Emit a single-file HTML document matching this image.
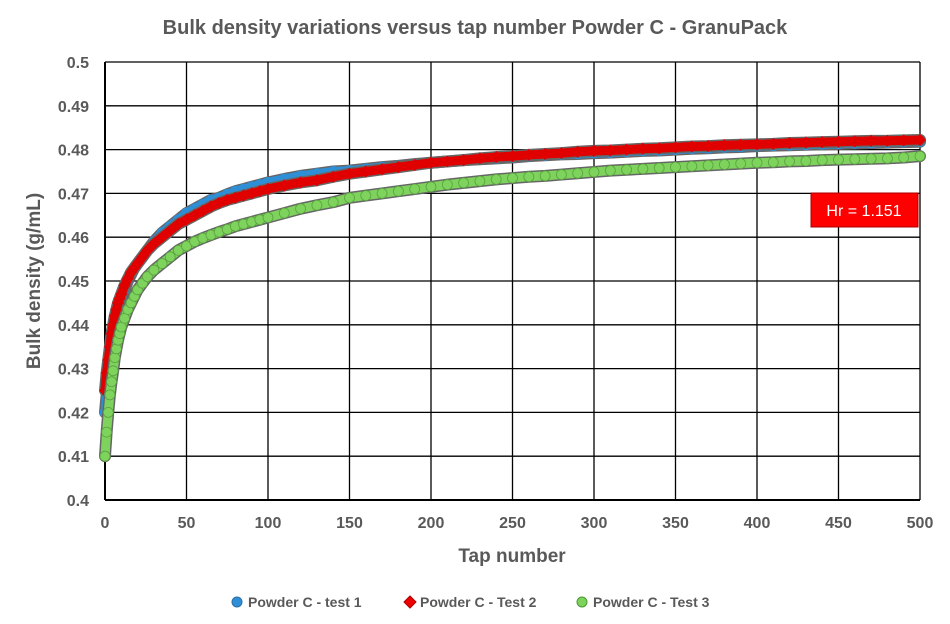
<!DOCTYPE html>
<html><head><meta charset="utf-8"><style>
body{margin:0;background:#fff;font-family:"Liberation Sans",sans-serif}
</style></head><body>
<svg id="chart" width="950" height="624" xmlns="http://www.w3.org/2000/svg" style="display:block">
<rect width="950" height="624" fill="#fff"/>
<text x="475" y="34" text-anchor="middle" font-size="20" font-weight="bold" fill="#595959">Bulk density variations versus tap number Powder C - GranuPack</text>
<g id="grid"></g><g id="marks"></g><g id="ticks"></g>
<text x="512" y="562" text-anchor="middle" font-size="19" font-weight="bold" fill="#595959">Tap number</text>
<text transform="translate(40,281) rotate(-90)" text-anchor="middle" font-size="19" font-weight="bold" fill="#595959">Bulk density (g/mL)</text>
<g>
<rect x="811" y="193" width="107" height="34" fill="#ff0000" stroke="#a00" stroke-width="1"/>
<text x="864" y="216" text-anchor="middle" font-size="16" fill="#fff">Hr = 1.151</text>
</g>
<g font-size="14" font-weight="bold" fill="#595959">
<g><circle cx="237" cy="602" r="5" fill="#2e8fd6" stroke="#2a6fa8"/><text x="248" y="607">Powder C - test 1</text></g>
<g><path d="M410 596 L416 602 L410 608 L404 602Z" fill="#e00" stroke="#a00"/><text x="420" y="607">Powder C - Test 2</text></g>
<g><circle cx="582" cy="602" r="5" fill="#7ed35c" stroke="#4a9a30"/><text x="593" y="607">Powder C - Test 3</text></g>
</g>
</svg>
<script>
const taps=[0,1,2,3,4,5,6,7,8,9,10,12,14,16,18,20,23,26,30,35,40,45,50,55,60,65,70,75,80,85,90,95,100,110,120,130,140,150,160,170,180,190,200,210,220,230,240,250,260,270,280,290,300,310,320,330,340,350,360,370,380,390,400,410,420,430,440,450,460,470,480,490,500];
const test1=[.420,.424,.428,.431,.434,.437,.439,.441,.443,.4445,.446,.448,.450,.4515,.453,.454,.4555,.457,.459,.461,.4625,.464,.4655,.4665,.4675,.4685,.469,.4698,.4705,.471,.4715,.472,.4725,.4733,.474,.4745,.475,.4752,.4756,.476,.4763,.4767,.477,.4773,.4776,.4778,.478,.4782,.4785,.4787,.4789,.479,.4792,.4793,.4795,.4797,.4798,.48,.4802,.4803,.4805,.4806,.4808,.4809,.481,.4811,.4812,.4813,.4814,.4815,.4816,.4817,.4818];
const test2=[.425,.429,.432,.435,.438,.440,.442,.4435,.445,.446,.447,.449,.4505,.452,.453,.454,.4555,.457,.4585,.460,.4615,.463,.464,.465,.466,.467,.4678,.4685,.469,.4695,.470,.4705,.471,.4718,.4725,.473,.4738,.4745,.475,.4755,.476,.4765,.477,.4773,.4776,.478,.4783,.4785,.4788,.479,.4792,.4795,.4797,.4798,.48,.4802,.4803,.4805,.4807,.4808,.481,.4811,.4812,.4813,.4815,.4816,.4817,.4818,.4819,.482,.482,.4821,.4822];
const test3=[.410,.4155,.420,.424,.427,.4295,.4325,.4345,.4365,.438,.4395,.4415,.4435,.445,.4465,.448,.4495,.451,.4525,.454,.4555,.457,.458,.459,.4598,.4605,.4612,.4618,.4625,.463,.4635,.464,.4645,.4655,.4665,.4673,.468,.469,.4695,.470,.4705,.471,.4715,.472,.4724,.4728,.4732,.4735,.4738,.474,.4743,.4746,.4749,.4752,.4754,.4756,.4758,.476,.4762,.4764,.4766,.4768,.477,.4771,.4773,.4774,.4776,.4777,.4778,.4779,.478,.4782,.4785];
const xTicks=[0,50,100,150,200,250,300,350,400,450,500];
const yTicks=[0.4,0.41,0.42,0.43,0.44,0.45,0.46,0.47,0.48,0.49,0.5];
const NS="http://www.w3.org/2000/svg";
const X0=105,X1=920,Y0=500,Y1=62;
const xs=v=>X0+(v-0)/(500-0)*(X1-X0);
const ys=v=>Y0-(v-0.4)/(0.5-0.4)*(Y0-Y1);
function mk(tag,attrs,parent){const e=document.createElementNS(NS,tag);for(const k in attrs)e.setAttribute(k,attrs[k]);parent.appendChild(e);return e;}
const grid=document.getElementById('grid'),ticks=document.getElementById('ticks'),marks=document.getElementById('marks');
xTicks.forEach(t=>{
 const l=mk('line',{x1:xs(t),x2:xs(t),y1:Y1,y2:Y0,stroke:'#000','stroke-width':t===0?2:1.3},grid);
 
 
 const tx=mk('text',{x:xs(t),y:Y0+28,'text-anchor':'middle','font-size':16,'font-weight':'bold',fill:'#595959'},ticks);
 tx.textContent=t;
 
 
});
yTicks.forEach(t=>{
 const l=mk('line',{x1:X0,x2:X1,y1:ys(t),y2:ys(t),stroke:'#000','stroke-width':t===0.4?2:1.3},grid);
 
 
 const tx=mk('text',{x:X0-16,y:ys(t)+6,'text-anchor':'end','font-size':16,'font-weight':'bold',fill:'#595959'},ticks);
 tx.textContent=(t===0.4||t===0.5)?String(t):t.toFixed(2);
 
 
});
function drawSeries(vals,kind,fill,stroke,name){
 const g=mk('g',{},marks);
 
 
 const pts=taps.map((t,i)=>xs(t)+','+ys(vals[i])).join(' ');
 const bo=mk('polyline',{points:pts,fill:'none',stroke:'#666','stroke-width':12,'stroke-linejoin':'round','stroke-linecap':'round'},g);
 
 
 const bf=mk('polyline',{points:pts,fill:'none',stroke:fill,'stroke-width':9,'stroke-linejoin':'round','stroke-linecap':'round'},g);
 
 
 taps.forEach((t,i)=>{
  const cx=xs(t),cy=ys(vals[i]);let m;
  if(kind==='circle'){m=mk('circle',{cx:cx,cy:cy,r:5,fill:fill,stroke:stroke,'stroke-width':0.8},g);}
  else{m=mk('path',{d:`M${cx} ${cy-5.5}L${cx+5.5} ${cy}L${cx} ${cy+5.5}L${cx-5.5} ${cy}Z`,fill:fill,stroke:fill,'stroke-width':0.8},g);}
  
  
 });
}
drawSeries(test1,'circle','#2e8fd6','#2e8fd6','series-test1');
drawSeries(test2,'diamond','#e00000','#e00000','series-test2');
drawSeries(test3,'circle','#7ed35c','#5aa040','series-test3');
</script>
</body></html>
